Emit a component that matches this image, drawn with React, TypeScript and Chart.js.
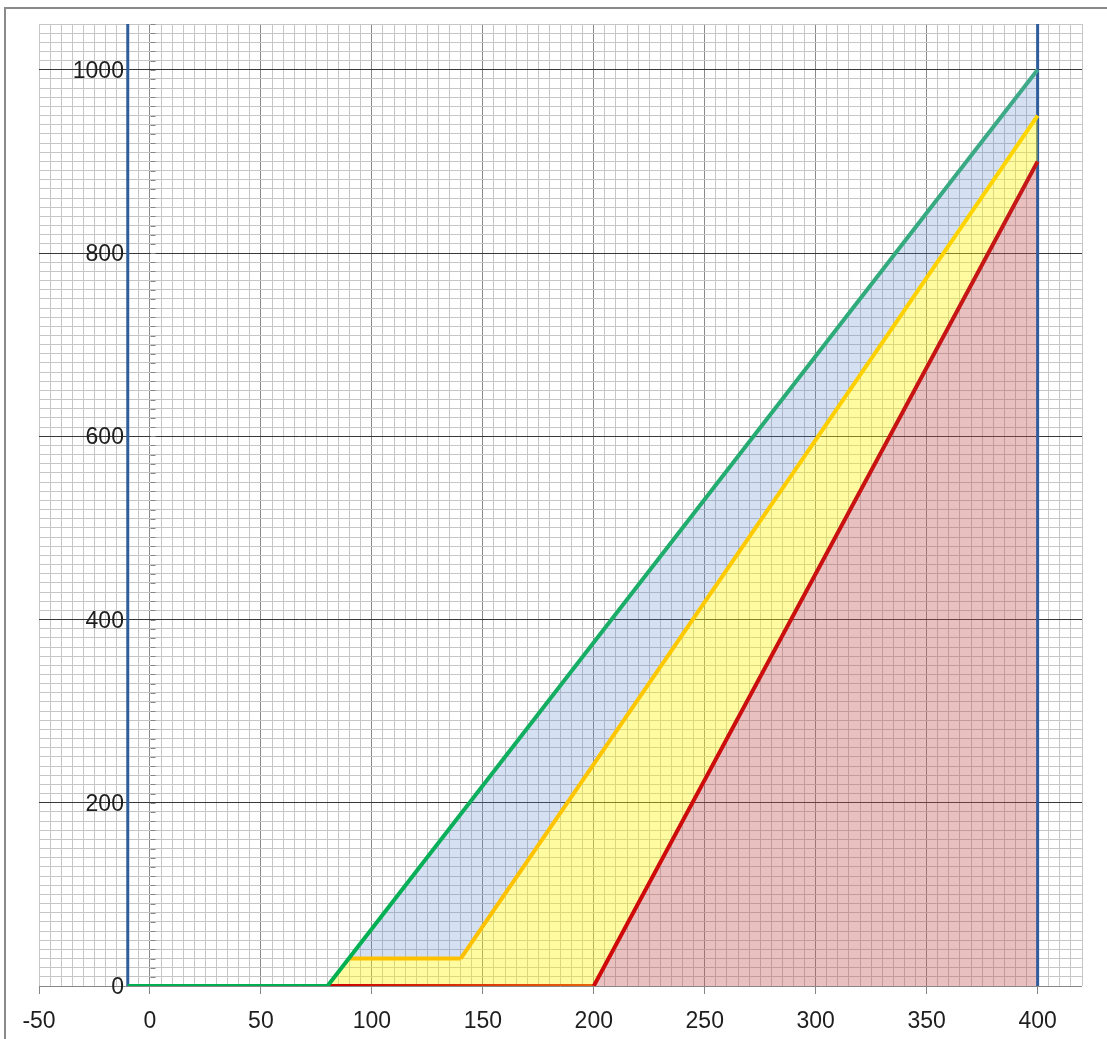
import React, { useEffect, useRef } from 'react';
import { Chart, registerables } from 'chart.js';

Chart.register(...registerables);

// Tick labels
const xTickLabels = [-50, 0, 50, 100, 150, 200, 250, 300, 350, 400];
const yTickLabels = [0, 200, 400, 600, 800, 1000];

// Line series
const greenX = [-10, 80, 400];
const greenY = [0, 0, 1000];
const yellowX = [90, 140, 400];
const yellowY = [30, 30, 950];
const redX = [80, 200, 400];
const redY = [0, 0, 900];
const blueLeftX = [-10, -10];
const blueLeftY = [0, 1050];
const blueRightX = [400, 400];
const blueRightY = [0, 1050];

// Shaded zones (closed polygons)
const blueZoneX = [90, 400, 400, 140];
const blueZoneY = [30, 1000, 950, 30];
const yellowZoneX = [80, 90, 140, 400, 400, 200];
const yellowZoneY = [0, 30, 30, 950, 900, 0];
const redZoneX = [200, 400, 400];
const redZoneY = [0, 900, 0];

const pts = (xs: number[], ys: number[]) => xs.map((x, i) => ({ x, y: ys[i] }));

const segGrad = (stops: [string, string][]) => (ctx: any) => {
  const pair = stops[ctx.p0DataIndex] || stops[stops.length - 1];
  const [c0, c1] = pair;
  if (c0 === c1) return c0;
  const g = ctx.chart.ctx.createLinearGradient(ctx.p0.x, ctx.p0.y, ctx.p1.x, ctx.p1.y);
  g.addColorStop(0, c0);
  g.addColorStop(1, c1);
  return g;
};

const isMult = (v: number, m: number) => Math.abs(v / m - Math.round(v / m)) < 1e-6;

const axisDecor = {
  id: 'axisDecor',
  beforeDatasetsDraw(chart: any) {
    const { ctx, scales } = chart;
    const xs = scales.x;
    const ys = scales.y;
    const x0 = Math.round(xs.getPixelForValue(0)) + 0.5;
    ctx.save();
    ctx.strokeStyle = '#868686';
    ctx.lineWidth = 1;
    ctx.beginPath();
    for (const t of ys.ticks) {
      const py = Math.round(ys.getPixelForValue(t.value)) + 0.5;
      ctx.moveTo(x0, py);
      ctx.lineTo(x0 + 5, py);
    }
    ctx.stroke();
    ctx.restore();
  },
  afterDraw(chart: any) {
    const { ctx, scales } = chart;
    const xs = scales.x;
    const ys = scales.y;
    ctx.save();
    ctx.font = '23px "Liberation Sans", Arial, sans-serif';
    ctx.fillStyle = '#1e1e1e';
    ctx.textBaseline = 'alphabetic';
    const base = ys.getPixelForValue(0);
    ctx.textAlign = 'center';
    for (const v of xTickLabels) {
      ctx.fillText(String(v), xs.getPixelForValue(v), base + 42);
    }
    ctx.textAlign = 'right';
    const lx = xs.getPixelForValue(0) - 26;
    for (const v of yTickLabels) {
      ctx.fillText(String(v), lx, ys.getPixelForValue(v) + 8);
    }
    ctx.restore();
  },
};

export default function App() {
  const ref = useRef<HTMLCanvasElement | null>(null);

  useEffect(() => {
    if (!ref.current) return;
    const line = (data: any[], extra: any) => ({
      data,
      pointRadius: 0,
      pointHoverRadius: 0,
      tension: 0,
      fill: false,
      ...extra,
    });
    const chart = new Chart(ref.current, {
      type: 'line',
      data: {
        datasets: [
          line(pts(greenX, greenY), {
            borderWidth: 4,
            borderColor: '#00B050',
            borderJoinStyle: 'round',
            segment: { borderColor: segGrad([['#00B050', '#00B050'], ['#00B050', '#40A98A']]) },
          }),
          line(pts(yellowX, yellowY), {
            borderWidth: 4,
            borderColor: '#FFC000',
            borderJoinStyle: 'round',
            segment: { borderColor: segGrad([['#FFC000', '#FFC000'], ['#FFC000', '#FFD600']]) },
          }),
          line(pts(redX, redY), {
            borderWidth: 4,
            borderColor: '#C00000',
            borderJoinStyle: 'round',
            segment: { borderColor: segGrad([['#CC0000', '#E8640C'], ['#D00808', '#C41818']]) },
          }),
          line(pts(yellowZoneX, yellowZoneY), {
            borderWidth: 0,
            borderColor: 'transparent',
            backgroundColor: 'rgba(255,245,5,0.38)',
            fill: 'shape',
          }),
          line(pts(blueLeftX, blueLeftY), { borderWidth: 3, borderColor: '#2F5D9C' }),
          line(pts(blueRightX, blueRightY), { borderWidth: 3, borderColor: '#2F5D9C' }),
          line(pts(redZoneX, redZoneY), {
            borderWidth: 0,
            borderColor: 'transparent',
            backgroundColor: 'rgba(192,80,77,0.36)',
            fill: 'shape',
          }),
          line(pts(blueZoneX, blueZoneY), {
            borderWidth: 0,
            borderColor: 'transparent',
            backgroundColor: 'rgba(87,135,203,0.25)',
            fill: 'shape',
          }),
        ],
      },
      options: {
        responsive: false,
        animation: false,
        devicePixelRatio: 1,
        events: [],
        layout: { padding: { left: 39, top: 24, right: 25, bottom: 45 } },
        plugins: { legend: { display: false }, tooltip: { enabled: false } },
        scales: {
          x: {
            type: 'linear',
            min: -50,
            max: 420,
            ticks: { stepSize: 5, display: false, autoSkip: false },
            border: { display: false },
            grid: {
              lineWidth: 1,
              drawTicks: true,
              tickLength: 8,
              tickWidth: 1,
              color: (c: any) => {
                const v = c.tick ? c.tick.value : 0;
                return isMult(v, 50) && v >= 0 && v <= 400 ? '#8A8A8A' : '#C6C6C6';
              },
              tickColor: (c: any) => {
                const v = c.tick ? c.tick.value : 0;
                return isMult(v, 50) && v <= 400 ? '#868686' : 'rgba(0,0,0,0)';
              },
            },
          },
          y: {
            type: 'linear',
            min: 0,
            max: 1050,
            ticks: { stepSize: 10, display: false, autoSkip: false },
            border: { display: false },
            grid: {
              lineWidth: 1,
              drawTicks: false,
              color: (c: any) => {
                const v = c.tick ? c.tick.value : 0;
                if (v === 0) return '#868686';
                return isMult(v, 200) ? '#383838' : '#C6C6C6';
              },
            },
          },
        },
      },
      plugins: [axisDecor],
    } as any);
    return () => chart.destroy();
  }, []);

  return (
    <>
      <div
        style={{
          position: 'fixed',
          left: 4,
          top: 7,
          width: 1300,
          height: 1300,
          borderLeft: '2px solid #8A8A8A',
          borderTop: '2px solid #8A8A8A',
          boxSizing: 'border-box',
        }}
      />
      <canvas
        ref={ref}
        width={1107}
        height={1039}
        style={{ position: 'fixed', left: 0, top: 0, width: 1107, height: 1039 }}
      />
    </>
  );
}
